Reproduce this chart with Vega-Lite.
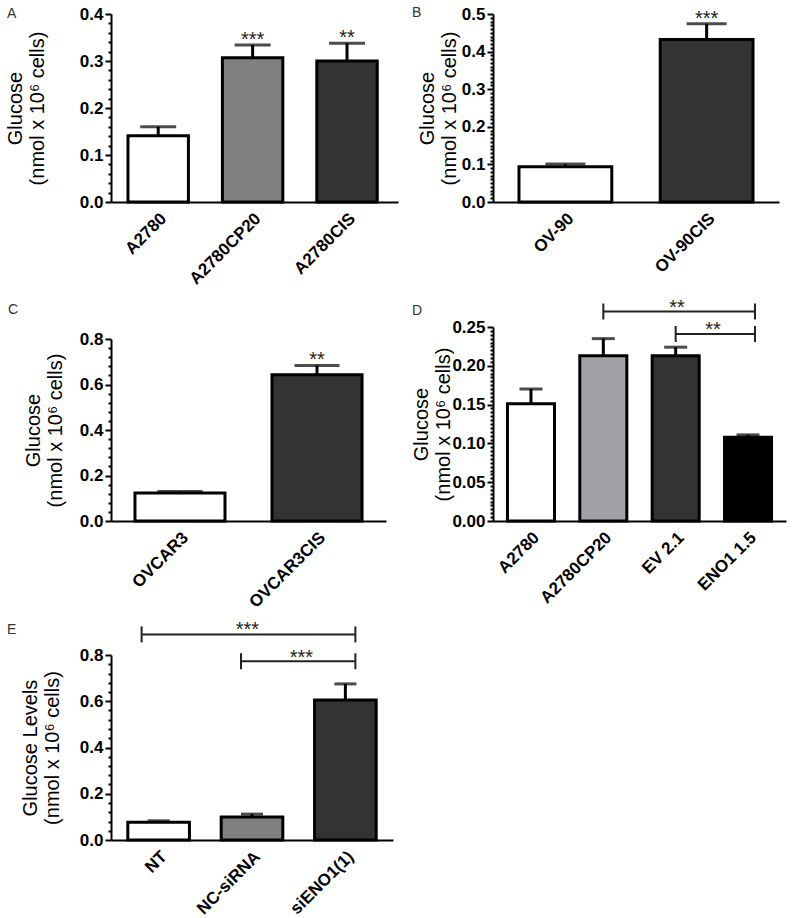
{
  "$schema": "https://vega.github.io/schema/vega-lite/v6.json",
  "autosize": {"type": "none"},
  "padding": {"left": 111, "top": 14, "right": 682, "bottom": 904},
  "columns": 2,
  "spacing": {"row": 125, "column": 95},
  "bounds": "flush",
  "align": "each",
  "resolve": {"scale": {"fill": "independent"}},
  "datasets": {
    "a": [
      {"cell": "A2780", "glucose": 0.141, "sem_top": 0.160, "sig": ""},
      {"cell": "A2780CP20", "glucose": 0.307, "sem_top": 0.334, "sig": "***"},
      {"cell": "A2780CIS", "glucose": 0.300, "sem_top": 0.338, "sig": "**"}
    ],
    "b": [
      {"cell": "OV-90", "glucose": 0.094, "sem_top": 0.101, "sig": ""},
      {"cell": "OV-90CIS", "glucose": 0.432, "sem_top": 0.474, "sig": "***"}
    ],
    "c": [
      {"cell": "OVCAR3", "glucose": 0.123, "sem_top": 0.130, "sig": ""},
      {"cell": "OVCAR3CIS", "glucose": 0.643, "sem_top": 0.684, "sig": "**"}
    ],
    "d": [
      {"cell": "A2780", "glucose": 0.151, "sem_top": 0.170},
      {"cell": "A2780CP20", "glucose": 0.213, "sem_top": 0.235},
      {"cell": "EV 2.1", "glucose": 0.213, "sem_top": 0.224},
      {"cell": "ENO1 1.5", "glucose": 0.108, "sem_top": 0.111}
    ],
    "d_cmp": [
      {"pair": "top", "from": "A2780CP20", "to": "ENO1 1.5", "level": 0.270, "sig": "**"},
      {"pair": "low", "from": "EV 2.1", "to": "ENO1 1.5", "level": 0.241, "sig": "**"}
    ],
    "e": [
      {"cell": "NT", "glucose": 0.077, "sem_top": 0.083},
      {"cell": "NC-siRNA", "glucose": 0.099, "sem_top": 0.112},
      {"cell": "siENO1(1)", "glucose": 0.605, "sem_top": 0.675}
    ],
    "e_cmp": [
      {"pair": "top", "from": "NT", "to": "siENO1(1)", "level": 0.889, "sig": "***"},
      {"pair": "low", "from": "NC-siRNA", "to": "siENO1(1)", "level": 0.773, "sig": "***"}
    ]
  },
  "concat": [
    {
      "width": 287, "height": 188,
      "title": {"text": "A", "dx": -104, "dy": 20},
      "data": {"name": "a"},
      "resolve": {"axis": {"y": "independent"}},
      "layer": [
        {
          "mark": {"type": "bar", "stroke": "black", "strokeWidth": 3},
          "encoding": {
            "x": {"field": "cell", "type": "nominal", "sort": null,
              "scale": {"domain": ["A2780", "A2780CP20", "A2780CIS"], "paddingInner": 0.36, "paddingOuter": 0.2, "align": 0.45},
              "axis": {"title": null}},
            "y": {"field": "glucose", "type": "quantitative",
              "scale": {"domain": [0, 0.4], "nice": false},
              "axis": {"orient": "left", "title": ["Glucose", "(nmol x 10⁶ cells)"], "titlePadding": 32, "values": [0, 0.1, 0.2, 0.3, 0.4], "format": ".1f"}},
            "fill": {"field": "cell", "type": "nominal", "legend": null,
              "scale": {"domain": ["A2780", "A2780CP20", "A2780CIS"], "range": ["#ffffff", "#808080", "#333333"]}}
          }
        },
        {
          "mark": {"type": "rule", "strokeWidth": 3, "color": "black"},
          "encoding": {"x": {"field": "cell", "type": "nominal", "sort": null},
            "y": {"field": "glucose", "type": "quantitative",
              "axis": {"orient": "left", "title": null, "labels": false, "domain": false, "tickSize": 3,
                "values": [0.02, 0.04, 0.06, 0.08, 0.12, 0.14, 0.16, 0.18, 0.22, 0.24, 0.26, 0.28, 0.32, 0.34, 0.36, 0.38]}},
            "y2": {"field": "sem_top"}}
        },
        {
          "mark": {"type": "tick", "size": 36, "thickness": 3, "color": "black"},
          "encoding": {"x": {"field": "cell", "type": "nominal", "sort": null}, "y": {"field": "sem_top", "type": "quantitative", "axis": null}}
        },
        {
          "mark": {"type": "text", "fontSize": 20, "baseline": "alphabetic", "dy": 1, "color": "#222"},
          "encoding": {"x": {"field": "cell", "type": "nominal", "sort": null}, "y": {"field": "sem_top", "type": "quantitative", "axis": null}, "text": {"field": "sig"}}
        }
      ]
    },
    {
      "width": 286, "height": 188,
      "title": {"text": "B", "dx": -81, "dy": 19},
      "data": {"name": "b"},
      "resolve": {"axis": {"y": "independent"}},
      "layer": [
        {
          "mark": {"type": "bar", "stroke": "black", "strokeWidth": 3},
          "encoding": {
            "x": {"field": "cell", "type": "nominal", "sort": null,
              "scale": {"domain": ["OV-90", "OV-90CIS"], "paddingInner": 0.343, "paddingOuter": 0.184},
              "axis": {"title": null}},
            "y": {"field": "glucose", "type": "quantitative",
              "scale": {"domain": [0, 0.5], "nice": false},
              "axis": {"orient": "left", "title": ["Glucose", "(nmol x 10⁶ cells)"], "titlePadding": 2, "values": [0, 0.1, 0.2, 0.3, 0.4, 0.5], "format": ".1f"}},
            "fill": {"field": "cell", "type": "nominal", "legend": null,
              "scale": {"domain": ["OV-90", "OV-90CIS"], "range": ["#ffffff", "#333333"]}}
          }
        },
        {
          "mark": {"type": "rule", "strokeWidth": 3, "color": "black"},
          "encoding": {"x": {"field": "cell", "type": "nominal", "sort": null},
            "y": {"field": "glucose", "type": "quantitative",
              "axis": {"orient": "left", "title": null, "labels": false, "domain": false, "tickSize": 3,
                "values": [0.01, 0.02, 0.03, 0.04, 0.05, 0.06, 0.07, 0.08, 0.09, 0.11, 0.12, 0.13, 0.14, 0.15, 0.16, 0.17, 0.18, 0.19, 0.21, 0.22, 0.23, 0.24, 0.25, 0.26, 0.27, 0.28, 0.29, 0.31, 0.32, 0.33, 0.34, 0.35, 0.36, 0.37, 0.38, 0.39, 0.41, 0.42, 0.43, 0.44, 0.45, 0.46, 0.47, 0.48, 0.49]}},
            "y2": {"field": "sem_top"}}
        },
        {
          "mark": {"type": "tick", "size": 40, "thickness": 3, "color": "black"},
          "encoding": {"x": {"field": "cell", "type": "nominal", "sort": null}, "y": {"field": "sem_top", "type": "quantitative", "axis": null}}
        },
        {
          "mark": {"type": "text", "fontSize": 20, "baseline": "alphabetic", "dy": 1, "color": "#222"},
          "encoding": {"x": {"field": "cell", "type": "nominal", "sort": null}, "y": {"field": "sem_top", "type": "quantitative", "axis": null}, "text": {"field": "sig"}}
        }
      ]
    },
    {
      "width": 275, "height": 194,
      "title": {"text": "C", "dx": -103, "dy": -6},
      "data": {"name": "c"},
      "resolve": {"axis": {"y": "independent"}},
      "layer": [
        {
          "mark": {"type": "bar", "stroke": "black", "strokeWidth": 3},
          "encoding": {
            "x": {"field": "cell", "type": "nominal", "sort": null,
              "scale": {"domain": ["OVCAR3", "OVCAR3CIS"], "paddingInner": 0.343, "paddingOuter": 0.175},
              "axis": {"title": null}},
            "y": {"field": "glucose", "type": "quantitative",
              "scale": {"domain": [0, 0.8], "nice": false, "range": [194, 12]},
              "axis": {"orient": "left", "title": ["Glucose", "(nmol x 10⁶ cells)"], "titlePadding": 14, "values": [0, 0.2, 0.4, 0.6, 0.8], "format": ".1f"}},
            "fill": {"field": "cell", "type": "nominal", "legend": null,
              "scale": {"domain": ["OVCAR3", "OVCAR3CIS"], "range": ["#ffffff", "#333333"]}}
          }
        },
        {
          "mark": {"type": "rule", "strokeWidth": 3, "color": "black"},
          "encoding": {"x": {"field": "cell", "type": "nominal", "sort": null},
            "y": {"field": "glucose", "type": "quantitative",
              "axis": {"orient": "left", "title": null, "labels": false, "domain": false, "tickSize": 3,
                "values": [0.04, 0.08, 0.12, 0.16, 0.24, 0.28, 0.32, 0.36, 0.44, 0.48, 0.52, 0.56, 0.64, 0.68, 0.72, 0.76]}},
            "y2": {"field": "sem_top"}}
        },
        {
          "mark": {"type": "tick", "size": 45, "thickness": 3, "color": "black"},
          "encoding": {"x": {"field": "cell", "type": "nominal", "sort": null}, "y": {"field": "sem_top", "type": "quantitative", "axis": null}}
        },
        {
          "mark": {"type": "text", "fontSize": 20, "baseline": "alphabetic", "dy": 1, "color": "#222"},
          "encoding": {"x": {"field": "cell", "type": "nominal", "sort": null}, "y": {"field": "sem_top", "type": "quantitative", "axis": null}, "text": {"field": "sig"}}
        }
      ]
    },
    {
      "width": 293, "height": 194,
      "title": {"text": "D", "dx": -81, "dy": 24},
      "resolve": {"axis": {"y": "independent"}},
      "layer": [
        {
          "data": {"name": "d"},
          "mark": {"type": "bar", "stroke": "black", "strokeWidth": 3},
          "encoding": {
            "x": {"field": "cell", "type": "nominal", "sort": null,
              "scale": {"domain": ["A2780", "A2780CP20", "EV 2.1", "ENO1 1.5"], "paddingInner": 0.35, "paddingOuter": 0.2},
              "axis": {"title": null}},
            "y": {"field": "glucose", "type": "quantitative",
              "scale": {"domain": [0, 0.25], "nice": false},
              "axis": {"orient": "left", "title": ["Glucose", "(nmol x 10⁶ cells)"], "titlePadding": -2, "values": [0, 0.05, 0.1, 0.15, 0.2, 0.25], "format": ".2f"}},
            "fill": {"field": "cell", "type": "nominal", "legend": null,
              "scale": {"domain": ["A2780", "A2780CP20", "EV 2.1", "ENO1 1.5"], "range": ["#ffffff", "#a1a1a5", "#333333", "#000000"]}}
          }
        },
        {
          "data": {"name": "d"},
          "mark": {"type": "rule", "strokeWidth": 3, "color": "black"},
          "encoding": {"x": {"field": "cell", "type": "nominal", "sort": null},
            "y": {"field": "glucose", "type": "quantitative",
              "axis": {"orient": "left", "title": null, "labels": false, "domain": false, "tickSize": 3,
                "values": [0.005, 0.01, 0.015, 0.02, 0.025, 0.03, 0.035, 0.04, 0.045, 0.055, 0.06, 0.065, 0.07, 0.075, 0.08, 0.085, 0.09, 0.095, 0.105, 0.11, 0.115, 0.12, 0.125, 0.13, 0.135, 0.14, 0.145, 0.155, 0.16, 0.165, 0.17, 0.175, 0.18, 0.185, 0.19, 0.195, 0.205, 0.21, 0.215, 0.22, 0.225, 0.23, 0.235, 0.24, 0.245]}},
            "y2": {"field": "sem_top"}}
        },
        {
          "data": {"name": "d"},
          "mark": {"type": "tick", "size": 23, "thickness": 3, "color": "black"},
          "encoding": {"x": {"field": "cell", "type": "nominal", "sort": null}, "y": {"field": "sem_top", "type": "quantitative", "axis": null}}
        },
        {
          "data": {"name": "d_cmp"},
          "mark": {"type": "rule", "strokeWidth": 2, "color": "#222", "x2Offset": 7},
          "encoding": {"x": {"field": "from", "type": "nominal"}, "x2": {"field": "to"}, "y": {"field": "level", "type": "quantitative", "axis": null}}
        },
        {
          "data": {"name": "d_cmp"},
          "mark": {"type": "rule", "strokeWidth": 2, "color": "#222", "yOffset": -8, "y2Offset": 8},
          "encoding": {"x": {"field": "from", "type": "nominal"}, "y": {"field": "level", "type": "quantitative", "axis": null}, "y2": {"field": "level"}}
        },
        {
          "data": {"name": "d_cmp"},
          "mark": {"type": "rule", "strokeWidth": 2, "color": "#222", "yOffset": -8, "y2Offset": 8, "xOffset": 7},
          "encoding": {"x": {"field": "to", "type": "nominal"}, "y": {"field": "level", "type": "quantitative", "axis": null}, "y2": {"field": "level"}}
        },
        {
          "data": {"name": "d_cmp"},
          "transform": [{"filter": "datum.pair == 'top'"}],
          "mark": {"type": "text", "fontSize": 20, "baseline": "alphabetic", "dy": 3, "dx": -71, "color": "#222"},
          "encoding": {"x": {"field": "to", "type": "nominal"}, "y": {"field": "level", "type": "quantitative", "axis": null}, "text": {"field": "sig"}}
        },
        {
          "data": {"name": "d_cmp"},
          "transform": [{"filter": "datum.pair == 'low'"}],
          "mark": {"type": "text", "fontSize": 20, "baseline": "alphabetic", "dy": 2, "dx": -35, "color": "#222"},
          "encoding": {"x": {"field": "to", "type": "nominal"}, "y": {"field": "level", "type": "quantitative", "axis": null}, "text": {"field": "sig"}}
        }
      ]
    },
    {
      "width": 282, "height": 194,
      "title": {"text": "E", "dx": -104, "dy": 21},
      "resolve": {"axis": {"y": "independent"}},
      "layer": [
        {
          "data": {"name": "e"},
          "mark": {"type": "bar", "stroke": "black", "strokeWidth": 3},
          "encoding": {
            "x": {"field": "cell", "type": "nominal", "sort": null,
              "scale": {"domain": ["NT", "NC-siRNA", "siENO1(1)"], "paddingInner": 0.34, "paddingOuter": 0.18},
              "axis": {"title": null}},
            "y": {"field": "glucose", "type": "quantitative",
              "scale": {"domain": [0, 0.8], "nice": false, "range": [194, 9]},
              "axis": {"orient": "left", "title": ["Glucose Levels", "(nmol x 10⁶ cells)"], "titlePadding": 17, "values": [0, 0.2, 0.4, 0.6, 0.8], "format": ".1f"}},
            "fill": {"field": "cell", "type": "nominal", "legend": null,
              "scale": {"domain": ["NT", "NC-siRNA", "siENO1(1)"], "range": ["#ffffff", "#808080", "#333333"]}}
          }
        },
        {
          "data": {"name": "e"},
          "mark": {"type": "rule", "strokeWidth": 3, "color": "black"},
          "encoding": {"x": {"field": "cell", "type": "nominal", "sort": null},
            "y": {"field": "glucose", "type": "quantitative",
              "axis": {"orient": "left", "title": null, "labels": false, "domain": false, "tickSize": 3,
                "values": [0.04, 0.08, 0.12, 0.16, 0.24, 0.28, 0.32, 0.36, 0.44, 0.48, 0.52, 0.56, 0.64, 0.68, 0.72, 0.76]}},
            "y2": {"field": "sem_top"}}
        },
        {
          "data": {"name": "e"},
          "mark": {"type": "tick", "size": 22, "thickness": 3, "color": "black"},
          "encoding": {"x": {"field": "cell", "type": "nominal", "sort": null}, "y": {"field": "sem_top", "type": "quantitative", "axis": null}}
        },
        {
          "data": {"name": "e_cmp"},
          "transform": [{"filter": "datum.pair == 'top'"}],
          "mark": {"type": "rule", "strokeWidth": 2, "color": "#222", "xOffset": -17, "x2Offset": 10},
          "encoding": {"x": {"field": "from", "type": "nominal"}, "x2": {"field": "to"}, "y": {"field": "level", "type": "quantitative", "axis": null}}
        },
        {
          "data": {"name": "e_cmp"},
          "transform": [{"filter": "datum.pair == 'top'"}],
          "mark": {"type": "rule", "strokeWidth": 2, "color": "#222", "yOffset": -8, "y2Offset": 8, "xOffset": -17},
          "encoding": {"x": {"field": "from", "type": "nominal"}, "y": {"field": "level", "type": "quantitative", "axis": null}, "y2": {"field": "level"}}
        },
        {
          "data": {"name": "e_cmp"},
          "transform": [{"filter": "datum.pair == 'low'"}],
          "mark": {"type": "rule", "strokeWidth": 2, "color": "#222", "xOffset": -11, "x2Offset": 10},
          "encoding": {"x": {"field": "from", "type": "nominal"}, "x2": {"field": "to"}, "y": {"field": "level", "type": "quantitative", "axis": null}}
        },
        {
          "data": {"name": "e_cmp"},
          "transform": [{"filter": "datum.pair == 'low'"}],
          "mark": {"type": "rule", "strokeWidth": 2, "color": "#222", "yOffset": -8, "y2Offset": 8, "xOffset": -11},
          "encoding": {"x": {"field": "from", "type": "nominal"}, "y": {"field": "level", "type": "quantitative", "axis": null}, "y2": {"field": "level"}}
        },
        {
          "data": {"name": "e_cmp"},
          "mark": {"type": "rule", "strokeWidth": 2, "color": "#222", "yOffset": -8, "y2Offset": 8, "xOffset": 10},
          "encoding": {"x": {"field": "to", "type": "nominal"}, "y": {"field": "level", "type": "quantitative", "axis": null}, "y2": {"field": "level"}}
        },
        {
          "data": {"name": "e_cmp"},
          "transform": [{"filter": "datum.pair == 'top'"}],
          "mark": {"type": "text", "fontSize": 20, "baseline": "alphabetic", "dy": 2, "dx": -98, "color": "#222"},
          "encoding": {"x": {"field": "to", "type": "nominal"}, "y": {"field": "level", "type": "quantitative", "axis": null}, "text": {"field": "sig"}}
        },
        {
          "data": {"name": "e_cmp"},
          "transform": [{"filter": "datum.pair == 'low'"}],
          "mark": {"type": "text", "fontSize": 20, "baseline": "alphabetic", "dy": 3, "dx": -44, "color": "#222"},
          "encoding": {"x": {"field": "to", "type": "nominal"}, "y": {"field": "level", "type": "quantitative", "axis": null}, "text": {"field": "sig"}}
        }
      ]
    }
  ],
  "config": {
    "font": "Liberation Sans",
    "view": {"stroke": null},
    "axis": {"grid": false},
    "axisX": {"labelAngle": -45, "labelFontSize": 17, "labelFontWeight": "bold", "labelColor": "black", "ticks": false, "domainColor": "black", "domainWidth": 2, "labelPadding": 8, "labelFont": "Liberation Sans"},
    "axisY": {"domainColor": "black", "domainWidth": 2, "tickColor": "black", "tickWidth": 2, "tickSize": 6, "labelFontSize": 17, "labelFontWeight": "bold", "labelColor": "black", "labelPadding": 2, "labelOverlap": false, "titleFontSize": 20, "titleFontWeight": "normal", "titleColor": "black", "titleLineHeight": 22, "titleFont": "Liberation Sans", "labelFont": "Liberation Sans"},
    "title": {"fontSize": 14, "fontWeight": "normal", "color": "#333", "anchor": "start", "frame": "group", "font": "Liberation Sans", "baseline": "alphabetic", "offset": 0}
  }
}
